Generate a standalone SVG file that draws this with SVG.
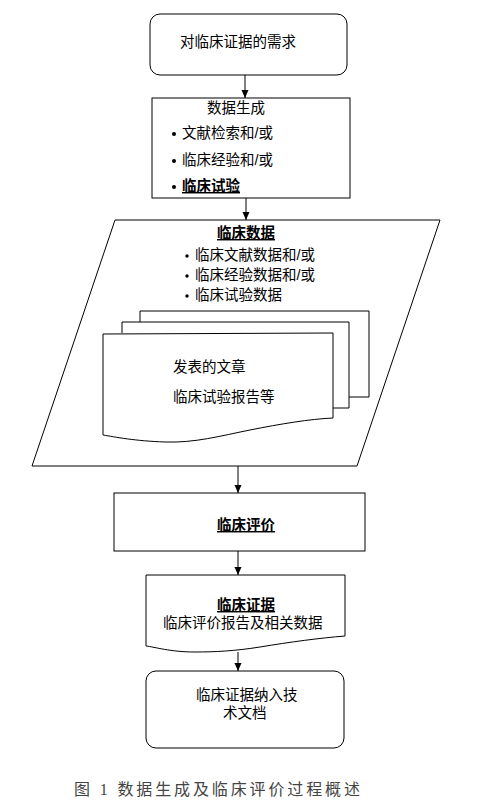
<svg xmlns="http://www.w3.org/2000/svg" width="490" height="810" viewBox="0 0 490 810">
<style>
.s{fill:#fff;stroke:#000;stroke-width:1}
.t{font-family:"Liberation Sans","Noto Sans CJK SC",sans-serif;font-size:14.5px;fill:#000}
.b{font-weight:bold;text-decoration:underline}
.c{stroke:#000;stroke-width:1;fill:none}
.cap{font-family:"Liberation Serif","Noto Sans CJK SC",serif;font-size:16px;fill:#444}
</style>
<defs>
<marker id="ah" markerUnits="userSpaceOnUse" markerWidth="8" markerHeight="8" refX="8" refY="3.5" orient="auto">
<path d="M0,0 L8,3.5 L0,7 Z" fill="#000"/>
</marker>
</defs>
<g id="n1">
<rect class="s" x="150" y="14" width="197" height="61" rx="10"/>
<text class="t" x="180" y="47">对临床证据的需求</text>
</g>
<g id="n2">
<rect class="s" x="152" y="98" width="198" height="100"/>
<text class="t" x="207" y="113">数据生成</text>
<circle cx="174" cy="134" r="2"/>
<text class="t" x="182" y="138">文献检索和/或</text>
<circle cx="174" cy="161" r="2"/>
<text class="t" x="182" y="165">临床经验和/或</text>
<circle cx="174" cy="187" r="2"/>
<text class="t b" x="182" y="191">临床试验</text>
</g>
<g id="n3">
<path class="s" d="M115,220 L440,220 L357,466 L32,466 Z"/>
<text class="t b" x="246" y="238" text-anchor="middle">临床数据</text>
<circle cx="187" cy="256" r="1.7"/>
<text class="t" x="195" y="260">临床文献数据和/或</text>
<circle cx="187" cy="276" r="1.7"/>
<text class="t" x="195" y="280">临床经验数据和/或</text>
<circle cx="187" cy="296" r="1.7"/>
<text class="t" x="195" y="300">临床试验数据</text>
<path class="s" d="M140,322 L140,311 L369,311 L369,397 L349,397"/>
<path class="s" d="M122,333 L122,322 L349,322 L349,408 L333,408"/>
<path class="s" d="M103,334 L333,333 L333,418 C310,419 280,424 250,430 C220,436 195,443 165,442 C135,441 115,437 103,435 Z"/>
<text class="t" x="173" y="372">发表的文章</text>
<text class="t" x="173" y="402">临床试验报告等</text>
</g>
<g id="n4">
<rect class="s" x="114" y="493" width="251" height="58"/>
<text class="t b" x="246" y="530" text-anchor="middle">临床评价</text>
</g>
<g id="n5">
<path class="s" d="M146,575 L345,575 L345,636 C320,638 290,642 260,647 C235,651 215,652 195,652 C170,652 155,647 146,646 Z"/>
<text class="t b" x="246" y="610" text-anchor="middle">临床证据</text>
<text class="t" x="163" y="628">临床评价报告及相关数据</text>
</g>
<g id="n6">
<rect class="s" x="146" y="671" width="198" height="77" rx="10"/>
<text class="t" x="196" y="700">临床证据纳入技</text>
<text class="t" x="223" y="718">术文档</text>
</g>
<g id="connectors">
<line class="c" x1="245" y1="75" x2="245" y2="98" marker-end="url(#ah)"/>
<line class="c" x1="246" y1="198" x2="246" y2="220" marker-end="url(#ah)"/>
<line class="c" x1="238" y1="466" x2="238" y2="493" marker-end="url(#ah)"/>
<line class="c" x1="238" y1="551" x2="238" y2="575" marker-end="url(#ah)"/>
<line class="c" x1="238" y1="652" x2="238" y2="671" marker-end="url(#ah)"/>
</g>
<text class="cap" x="74" y="795" textLength="286" lengthAdjust="spacing">图 1 数据生成及临床评价过程概述</text>
</svg>
